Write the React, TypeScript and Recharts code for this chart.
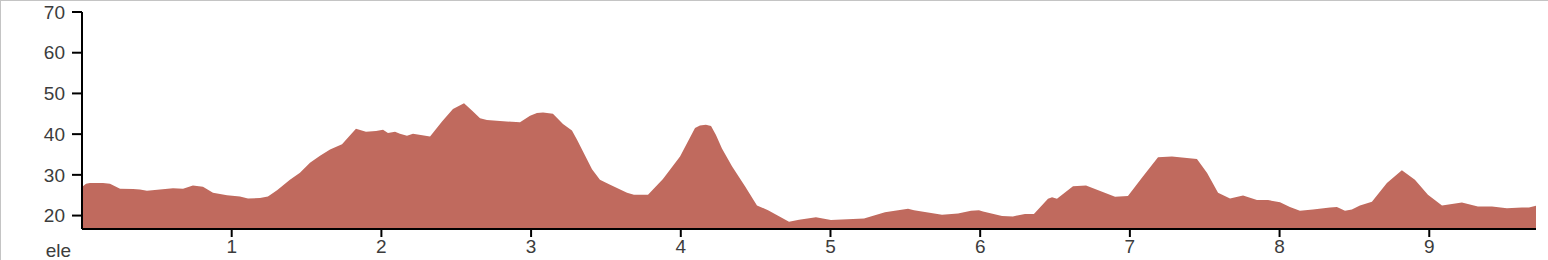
import { Area, AreaChart, XAxis, YAxis } from 'recharts';

const distance = [
  0.0, 0.027, 0.053, 0.14, 0.187, 0.254, 0.341, 0.387, 0.434, 0.521, 0.608, 0.675, 0.741, 0.808, 0.875,
  0.969, 1.055, 1.109, 1.189, 1.242, 1.303, 1.389, 1.456, 1.523, 1.59, 1.657, 1.737, 1.83, 1.897, 1.964,
  2.011, 2.044, 2.091, 2.124, 2.171, 2.211, 2.325, 2.405, 2.478, 2.552, 2.605, 2.659, 2.705, 2.792, 2.926,
  2.993, 3.039, 3.08, 3.146, 3.213, 3.273, 3.307, 3.407, 3.46, 3.514, 3.641, 3.687, 3.781, 3.881, 3.995,
  4.095, 4.128, 4.168, 4.202, 4.235, 4.275, 4.342, 4.429, 4.509, 4.583, 4.723, 4.79, 4.903, 5.003, 5.224,
  5.364, 5.518, 5.558, 5.745, 5.852, 5.939, 5.992, 6.019, 6.146, 6.219, 6.299, 6.359, 6.453, 6.48, 6.513,
  6.62, 6.707, 6.901, 6.987, 7.087, 7.188, 7.281, 7.448, 7.515, 7.589, 7.669, 7.756, 7.849, 7.923, 8.003,
  8.069, 8.136, 8.223, 8.337, 8.383, 8.437, 8.483, 8.537, 8.617, 8.717, 8.817, 8.904, 8.991, 9.085, 9.218,
  9.325, 9.419, 9.519, 9.619, 9.666, 9.713,
];

const elevation = [
  27.0, 27.8, 28.0, 28.0, 27.8, 26.6, 26.5, 26.4, 26.1, 26.4, 26.7, 26.6, 27.4, 27.1, 25.6,
  25.0, 24.7, 24.2, 24.3, 24.7, 26.2, 28.8, 30.5, 33.0, 34.7, 36.2, 37.5, 41.3, 40.6, 40.8,
  41.1, 40.3, 40.6, 40.1, 39.6, 40.1, 39.4, 43.1, 46.2, 47.6, 45.8, 43.9, 43.5, 43.2, 42.9,
  44.5, 45.2, 45.3, 45.0, 42.5, 40.9, 38.6, 31.4, 28.8, 27.8, 25.6, 25.1, 25.1, 29.0, 34.5,
  41.5, 42.1, 42.3, 42.0, 39.8, 36.5, 32.1, 27.2, 22.5, 21.3, 18.5, 19.0, 19.6, 18.9, 19.3,
  20.8, 21.7, 21.3, 20.2, 20.5, 21.2, 21.3, 21.0, 19.9, 19.8, 20.4, 20.4, 24.1, 24.5, 24.1,
  27.2, 27.4, 24.6, 24.8, 29.6, 34.3, 34.5, 33.9, 30.5, 25.6, 24.2, 24.9, 23.8, 23.8, 23.3,
  22.1, 21.2, 21.5, 22.0, 22.1, 21.2, 21.5, 22.5, 23.4, 28.0, 31.1, 28.8, 25.1, 22.5, 23.2,
  22.2, 22.2, 21.8, 22.0, 22.0, 22.4,
];

const xTicks = [1, 2, 3, 4, 5, 6, 7, 8, 9];
const yTicks = [20, 30, 40, 50, 60, 70];

const data = distance.map((d, i) => ({ dist: d, ele: elevation[i] }));

const font = "'Liberation Sans', Arial, sans-serif";
const tickStyle = { fill: '#3c3c3c', fontSize: 19, fontFamily: font };

export default function App() {
  return (
    <div style={{ position: 'absolute', left: 0, top: 0, width: 1548, height: 260 }}>
      <AreaChart width={1548} height={260} data={data} margin={{ top: 12, right: 12, left: 22, bottom: 1 }}>
        <XAxis
          dataKey="dist"
          type="number"
          domain={['dataMin', 'dataMax']}
          ticks={xTicks}
          tick={tickStyle}
          tickSize={8}
          tickMargin={3}
          height={30}
          axisLine={{ stroke: '#000', strokeWidth: 2 }}
          tickLine={{ stroke: '#000', strokeWidth: 2 }}
        />
        <YAxis
          type="number"
          domain={[16.7, 70]}
          allowDataOverflow
          ticks={yTicks}
          tick={tickStyle}
          tickSize={10}
          tickMargin={7}
          width={60}
          axisLine={{ stroke: '#000', strokeWidth: 2 }}
          tickLine={{ stroke: '#000', strokeWidth: 2 }}
          label={{
            content: () => (
              <text x={71} y={257} textAnchor="end" fill="#3c3c3c" fontSize={19} fontFamily={font}>
                ele
              </text>
            ),
          }}
        />
        <Area
          type="linear"
          dataKey="ele"
          stroke="none"
          fill="#c06a5e"
          fillOpacity={1}
          isAnimationActive={false}
        />
      </AreaChart>
      <div
        style={{
          position: 'absolute',
          left: 0,
          top: 0,
          width: 1548,
          height: 260,
          borderTop: '1px solid #c4c4c4',
          borderLeft: '1px solid #c4c4c4',
          boxSizing: 'border-box',
          pointerEvents: 'none',
        }}
      />
    </div>
  );
}
